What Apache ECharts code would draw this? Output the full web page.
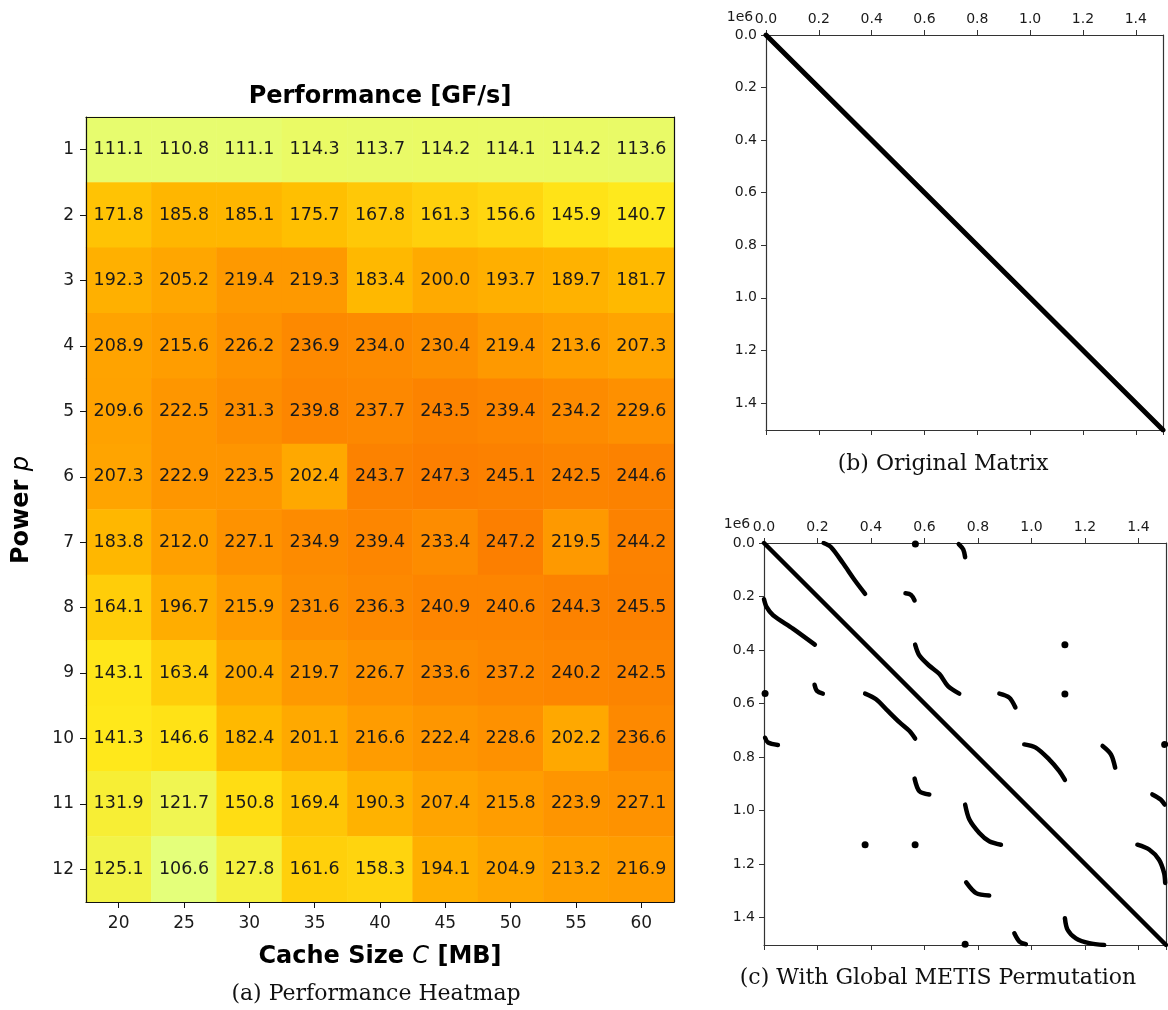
<!DOCTYPE html>
<html>
<head>
<meta charset="utf-8">
<script src="https://cdn.jsdelivr.net/npm/echarts@6.0.0/dist/echarts.min.js"></script>
<style>
  html, body { margin: 0; padding: 0; background: #fff; }
  #chart { width: 1168px; height: 1010px; }
</style>
</head>
<body>
<div id="chart"></div>
<script>
// heatmap data: rows = power p, columns = cache size C [MB]
const cacheSizes = ['20', '25', '30', '35', '40', '45', '50', '55', '60'];
const powers = ['1', '2', '3', '4', '5', '6', '7', '8', '9', '10', '11', '12'];
const perf = [
  [111.1, 110.8, 111.1, 114.3, 113.7, 114.2, 114.1, 114.2, 113.6],
  [171.8, 185.8, 185.1, 175.7, 167.8, 161.3, 156.6, 145.9, 140.7],
  [192.3, 205.2, 219.4, 219.3, 183.4, 200.0, 193.7, 189.7, 181.7],
  [208.9, 215.6, 226.2, 236.9, 234.0, 230.4, 219.4, 213.6, 207.3],
  [209.6, 222.5, 231.3, 239.8, 237.7, 243.5, 239.4, 234.2, 229.6],
  [207.3, 222.9, 223.5, 202.4, 243.7, 247.3, 245.1, 242.5, 244.6],
  [183.8, 212.0, 227.1, 234.9, 239.4, 233.4, 247.2, 219.5, 244.2],
  [164.1, 196.7, 215.9, 231.6, 236.3, 240.9, 240.6, 244.3, 245.5],
  [143.1, 163.4, 200.4, 219.7, 226.7, 233.6, 237.2, 240.2, 242.5],
  [141.3, 146.6, 182.4, 201.1, 216.6, 222.4, 228.6, 202.2, 236.6],
  [131.9, 121.7, 150.8, 169.4, 190.3, 207.4, 215.8, 223.9, 227.1],
  [125.1, 106.6, 127.8, 161.6, 158.3, 194.1, 204.9, 213.2, 216.9]
];
// matplotlib "Wistia"
const wistia = ['#e4ff7a', '#ffe81a', '#ffbd00', '#ffa000', '#fc7f00'];

// sparsity patterns, coordinates in units of 1e6
const matrixSize = 1.503;
const originalDiag = [[0, 0], [1.503, 1.503]];
const metisDiag = [[0, 0], [1.503, 1.503]];
const metisCurves = [
  [[0.223, 0.0], [0.25, 0.015], [0.295, 0.075], [0.34, 0.14], [0.378, 0.19]],
  [[0.728, 0.004], [0.745, 0.024], [0.752, 0.053]],
  [[0.529, 0.188], [0.55, 0.194], [0.563, 0.215]],
  [[0.565, 0.38], [0.581, 0.421], [0.618, 0.459], [0.656, 0.49], [0.687, 0.534], [0.73, 0.563]],
  [[0.88, 0.563], [0.917, 0.578], [0.94, 0.615]],
  [[0.973, 0.753], [1.016, 0.765], [1.066, 0.809], [1.104, 0.853], [1.125, 0.886]],
  [[1.266, 0.759], [1.297, 0.79], [1.313, 0.84]],
  [[1.452, 0.94], [1.483, 0.959], [1.498, 0.978]],
  [[1.396, 1.128], [1.44, 1.146], [1.477, 1.184], [1.496, 1.234], [1.5, 1.271]],
  [[0.0, 0.21], [0.01, 0.24], [0.034, 0.27], [0.108, 0.32], [0.19, 0.38]],
  [[0.004, 0.728], [0.015, 0.746], [0.052, 0.755]],
  [[0.189, 0.53], [0.198, 0.553], [0.22, 0.563]],
  [[0.378, 0.563], [0.419, 0.584], [0.463, 0.628], [0.507, 0.671], [0.544, 0.703], [0.565, 0.731]],
  [[0.563, 0.881], [0.581, 0.928], [0.618, 0.94]],
  [[0.752, 0.978], [0.768, 1.034], [0.805, 1.084], [0.842, 1.115], [0.886, 1.128]],
  [[0.756, 1.269], [0.793, 1.309], [0.842, 1.318]],
  [[0.936, 1.459], [0.955, 1.49], [0.979, 1.5]],
  [[1.125, 1.403], [1.135, 1.446], [1.166, 1.478], [1.216, 1.496], [1.272, 1.503]]
];
const metisDots = [
  [0.566, 0.004], [0.004, 0.563], [1.125, 0.38], [0.378, 1.128],
  [1.125, 0.565], [0.565, 1.128], [1.498, 0.753], [0.752, 1.5]
];

const FONT = 'DejaVu Sans';
const TXT = '#1a1a1a';
const LINE = '#333';

const heatData = [];
perf.forEach((row, i) => row.forEach((v, j) => heatData.push([j, i, v])));

function spyX(grid, pos) {
  return {
    type: 'value', gridIndex: grid, position: pos, min: 0, max: matrixSize, interval: 0.2,
    axisLine: { show: true, onZero: false, lineStyle: { color: LINE, width: 1.2 } },
    axisTick: { show: true, length: 5, lineStyle: { color: LINE } },
    axisLabel: {
      show: pos === 'top', margin: 9, fontSize: 14, fontFamily: FONT, color: TXT,
      showMaxLabel: false, formatter: v => v.toFixed(1)
    },
    splitLine: { show: false }
  };
}
function spyY(grid, pos) {
  const left = pos === 'left';
  return {
    type: 'value', gridIndex: grid, position: pos, inverse: true, min: 0, max: matrixSize, interval: 0.2,
    axisLine: { show: true, onZero: false, lineStyle: { color: LINE, width: 1.2 } },
    axisTick: { show: left, length: 5, lineStyle: { color: LINE } },
    axisLabel: {
      show: left, margin: 9, fontSize: 14, fontFamily: FONT, color: TXT,
      showMaxLabel: false, formatter: v => v.toFixed(1)
    },
    splitLine: { show: false }
  };
}
function spyLine(pts, xi, yi, w) {
  return {
    type: 'line', xAxisIndex: xi, yAxisIndex: yi, data: pts, showSymbol: false, smooth: 0.3,
    silent: true, lineStyle: { color: '#000', width: w, cap: 'round', join: 'round' }
  };
}

const chart = echarts.init(document.getElementById('chart'));

const option = {
  animation: false,
  backgroundColor: '#fff',
  grid: [
    { left: 86, top: 117, width: 588, height: 785 },
    { left: 766, top: 35, width: 397, height: 395 },
    { left: 764, top: 543, width: 402, height: 402 }
  ],
  xAxis: [
    {
      type: 'category', gridIndex: 0, data: cacheSizes, position: 'bottom', z: 10,
      axisLine: { show: true, onZero: false, lineStyle: { color: '#111', width: 1.2 } },
      axisTick: { show: true, alignWithLabel: true, length: 6, lineStyle: { color: '#111' } },
      axisLabel: { fontSize: 17, fontFamily: FONT, color: TXT, margin: 13 },
      splitLine: { show: false }
    },
    {
      type: 'value', gridIndex: 0, position: 'top', min: 0, max: 1, z: 10,
      axisLine: { show: true, onZero: false, lineStyle: { color: '#111', width: 1.2 } },
      axisTick: { show: false }, axisLabel: { show: false }, splitLine: { show: false }
    },
    spyX(1, 'top'), spyX(1, 'bottom'),
    spyX(2, 'top'), spyX(2, 'bottom')
  ],
  yAxis: [
    {
      type: 'category', gridIndex: 0, data: powers, inverse: true, position: 'left', z: 10,
      axisLine: { show: true, onZero: false, lineStyle: { color: '#111', width: 1.2 } },
      axisTick: { show: true, alignWithLabel: true, length: 6, lineStyle: { color: '#111' } },
      axisLabel: { fontSize: 17, fontFamily: FONT, color: TXT, margin: 12 },
      splitLine: { show: false }
    },
    {
      type: 'value', gridIndex: 0, position: 'right', min: 0, max: 1, z: 10,
      axisLine: { show: true, onZero: false, lineStyle: { color: '#111', width: 1.2 } },
      axisTick: { show: false }, axisLabel: { show: false }, splitLine: { show: false }
    },
    spyY(1, 'left'), spyY(1, 'right'),
    spyY(2, 'left'), spyY(2, 'right')
  ],
  visualMap: {
    show: false, type: 'continuous', seriesIndex: 0,
    min: 106.6, max: 247.3, inRange: { color: wistia }
  },
  series: [
    {
      type: 'heatmap', xAxisIndex: 0, yAxisIndex: 0, data: heatData,
      label: {
        show: true, fontSize: 17.5, fontFamily: FONT, color: TXT,
        formatter: p => p.value[2].toFixed(1)
      },
      itemStyle: { borderWidth: 0 }
    },
    spyLine(originalDiag, 2, 2, 5),
    spyLine(metisDiag, 4, 4, 4.5),
    ...metisCurves.map(c => spyLine(c, 4, 4, 4.5)),
    {
      type: 'scatter', xAxisIndex: 4, yAxisIndex: 4, data: metisDots, symbolSize: 7,
      silent: true, itemStyle: { color: '#000', opacity: 1 }
    }
  ],
  graphic: [
    {
      type: 'text', x: 380, y: 97,
      style: { text: 'Performance [GF/s]', font: 'bold 24px "DejaVu Sans"', fill: '#000', align: 'center', verticalAlign: 'middle' }
    },
    {
      type: 'text', x: 380, y: 957,
      style: {
        text: '{b|Cache Size }{i|C}{b| [MB]}', align: 'center', verticalAlign: 'middle',
        rich: {
          b: { fontFamily: FONT, fontWeight: 'bold', fontSize: 24, fill: '#000' },
          i: { fontFamily: FONT, fontStyle: 'italic', fontSize: 24, fill: '#000' }
        }
      }
    },
    {
      type: 'text', x: 22, y: 510, rotation: Math.PI / 2,
      style: {
        text: '{b|Power }{i|p}', align: 'center', verticalAlign: 'middle',
        rich: {
          b: { fontFamily: FONT, fontWeight: 'bold', fontSize: 24, fill: '#000' },
          i: { fontFamily: FONT, fontStyle: 'italic', fontSize: 24, fill: '#000' }
        }
      }
    },
    {
      type: 'text', x: 376, y: 994,
      style: { text: '(a) Performance Heatmap', font: '22px "DejaVu Serif"', fill: '#111', align: 'center', verticalAlign: 'middle' }
    },
    {
      type: 'text', x: 943, y: 464,
      style: { text: '(b) Original Matrix', font: '22px "DejaVu Serif"', fill: '#111', align: 'center', verticalAlign: 'middle' }
    },
    {
      type: 'text', x: 938, y: 978,
      style: { text: '(c) With Global METIS Permutation', font: '22px "DejaVu Serif"', fill: '#111', align: 'center', verticalAlign: 'middle' }
    },
    {
      type: 'text', x: 740, y: 17,
      style: { text: '1e6', font: '14px "DejaVu Sans"', fill: TXT, align: 'center', verticalAlign: 'middle' }
    },
    {
      type: 'text', x: 737, y: 524,
      style: { text: '1e6', font: '14px "DejaVu Sans"', fill: TXT, align: 'center', verticalAlign: 'middle' }
    }
  ]
};

chart.setOption(option);
window.addEventListener('resize', () => chart.resize());
</script>
</body>
</html>
